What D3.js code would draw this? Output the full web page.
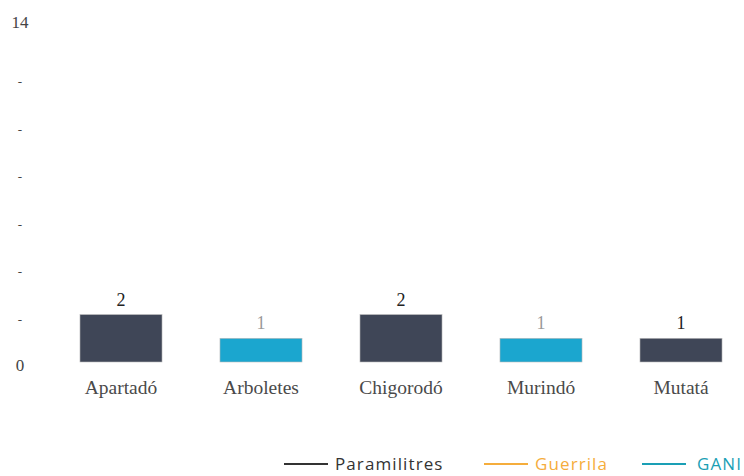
<!DOCTYPE html>
<html>
<head>
<meta charset="utf-8">
<script src="https://cdn.jsdelivr.net/npm/d3@7"></script>
<style>
	body { margin: 0; background: #fff; }
	svg { display: block; }
</style>
</head>
<body>
<svg id="chart" width="744" height="476"></svg>
<script>
const municipios = ['Apartadó', 'Arboletes', 'Chigorodó', 'Murindó', 'Mutatá']
const seriesNames = ['Paramilitres', 'Guerrila', 'GANI']
const paramilitres = [2, 0, 2, 0, 1]
const guerrila = [0, 0, 0, 0, 0]
const gani = [0, 1, 0, 1, 0]
const yTicks = [0, 2, 4, 6, 8, 10, 12, 14]

const barColors = { 'Paramilitres': '#3f4657', 'Guerrila': '#f5ad3c', 'GANI': '#1ba6cf' }
const legendColors = { 'Paramilitres': '#333333', 'Guerrila': '#f5ad3c', 'GANI': '#1a9fb5' }
const labelColors = { 'Paramilitres': '#222222', 'Guerrila': '#f5ad3c', 'GANI': '#9a9a9a' }

const svg = d3.select('#chart')
const serif = '"Liberation Serif", "DejaVu Serif", serif'

const rows = municipios.map((m, i) => ({
	name: m,
	Paramilitres: paramilitres[i],
	Guerrila: guerrila[i],
	GANI: gani[i]
}))

const x = d3.scaleBand()
	.domain(municipios)
	.range([51, 751])
	.paddingInner(0.414)
	.paddingOuter(0.207)

const y = d3.scaleLinear()
	.domain([0, 14])
	.range([362, 30])

const stack = d3.stack().keys(seriesNames)(rows)

// bars
svg.append('g').selectAll('g')
	.data(stack)
	.enter().append('g')
		.attr('fill', (s) => barColors[s.key])
	.selectAll('rect')
	.data((s) => s.filter(d => d[1] - d[0] > 0))
	.enter().append('rect')
		.attr('x', (d) => x(d.data.name))
		.attr('y', (d) => y(d[1]))
		.attr('width', x.bandwidth())
		.attr('height', (d) => y(d[0]) - y(d[1]))
		.attr('stroke', '#bbb')
		.attr('stroke-width', 0.6)

// value labels
svg.append('g').selectAll('text')
	.data(rows)
	.enter().append('text')
		.attr('x', (d) => x(d.name) + x.bandwidth() / 2)
		.attr('y', (d) => y(d.Paramilitres + d.Guerrila + d.GANI) - 9)
		.attr('text-anchor', 'middle')
		.style('font-family', serif)
		.style('font-size', '18px')
		.style('fill', (d) => d.GANI > 0 ? labelColors.GANI : labelColors.Paramilitres)
		.text((d) => d.Paramilitres + d.Guerrila + d.GANI)

// category axis labels
svg.append('g').selectAll('text')
	.data(municipios)
	.enter().append('text')
		.attr('x', (d) => x(d) + x.bandwidth() / 2)
		.attr('y', 394)
		.attr('text-anchor', 'middle')
		.style('font-family', serif)
		.style('font-size', '19.5px')
		.style('fill', '#4a4a4a')
		.text((d) => d)

// y axis labels ('-' between the ends)
svg.append('g').selectAll('text')
	.data(yTicks)
	.enter().append('text')
		.attr('x', 20)
		.attr('y', (d) => {
			if (d === 14) return 28
			else return y(d) + 9
		})
		.attr('text-anchor', 'middle')
		.style('font-family', serif)
		.style('font-size', (d) => (d === 0 || d === 14) ? '17px' : '13px')
		.style('fill', '#444')
		.text((d) => (d === 0 || d === 14) ? d : '-')

// legend
const legendX = [284, 484, 642]
const legend = svg.append('g').selectAll('g')
	.data(seriesNames)
	.enter().append('g')
		.attr('transform', (d, i) => 'translate(' + legendX[i] + ',464)')
legend.append('line')
	.attr('x1', 0).attr('x2', 44)
	.attr('y1', 0).attr('y2', 0)
	.attr('stroke', (d) => legendColors[d])
	.attr('stroke-width', 2)
legend.append('text')
	.attr('x', (d, i) => i === 2 ? 55 : 51)
	.attr('y', 6)
	.style('font-family', '"Open Sans", sans-serif')
	.style('font-size', '17px')
	.style('letter-spacing', '1.1px')
	.style('fill', (d) => d === 'Paramilitres' ? '#333' : legendColors[d])
	.text((d) => d)
</script>
</body>
</html>
